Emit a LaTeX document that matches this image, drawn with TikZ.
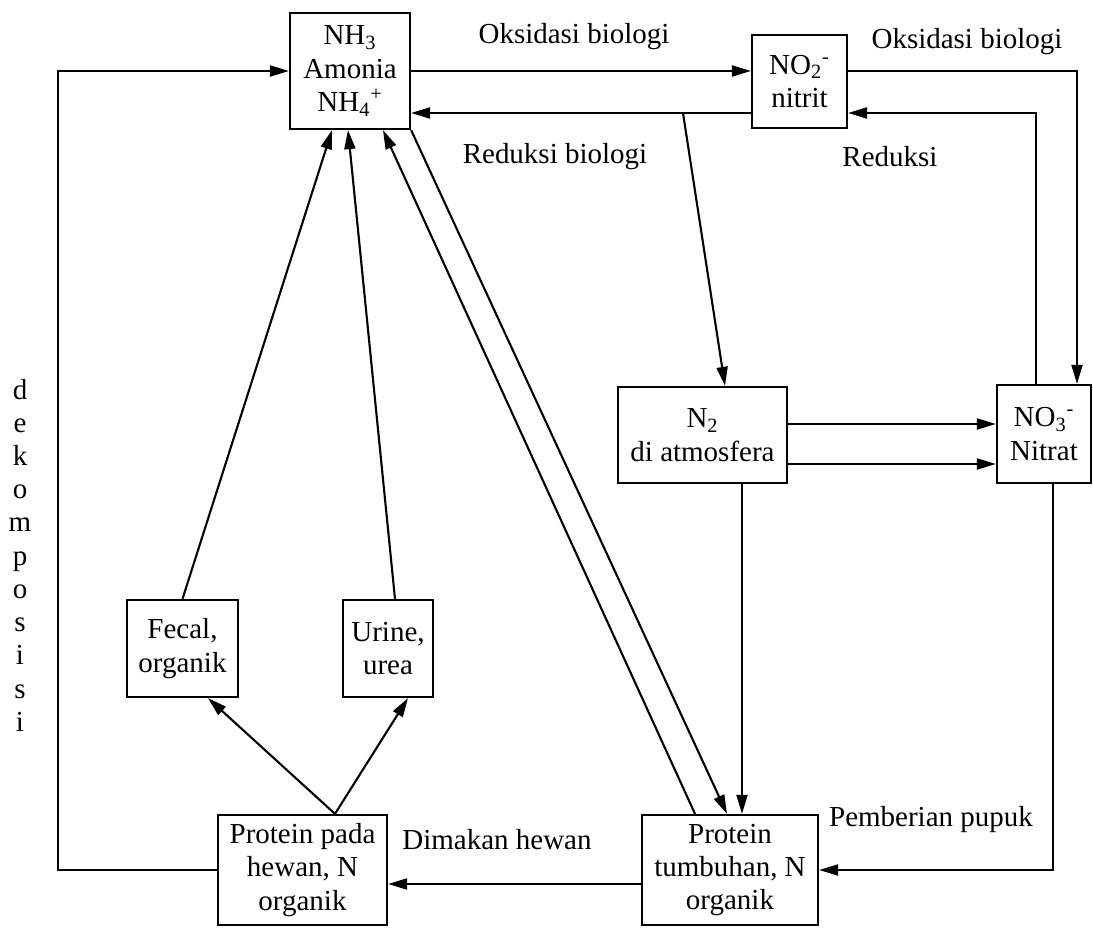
\documentclass[tikz,border=0pt]{standalone}
\usepackage{fontspec}
\setmainfont{Liberation Serif}
\usetikzlibrary{arrows.meta}
\begin{document}
\begin{tikzpicture}[x=0.02cm, y=-0.02cm,
    main/.style = {draw, line width=1.3pt, align=center, inner sep=0pt, font=\fontsize{16.5}{19}\selectfont},
    lbl/.style = {inner sep=0pt, font=\fontsize{16.5}{19}\selectfont},
    every path/.style = {line width=1.2pt},
    >={Triangle[length=0.38cm, width=0.22cm]}]
    \useasboundingbox (0,0) rectangle (1093,928);
    \node[main, minimum width=2.4cm, minimum height=2.32cm] (1) at (350,71) {NH\textsubscript{3}\\Amonia\\NH\textsubscript{4}\textsuperscript{+}};
    \node[main, minimum width=1.9cm, minimum height=1.86cm] (2) at (799.5,81.5) {NO\textsubscript{2}\textsuperscript{-}\\nitrit};
    \node[main, minimum width=3.38cm, minimum height=1.92cm] (3) at (702.5,435) {N\textsubscript{2}\\di atmosfera};
    \node[main, minimum width=1.88cm, minimum height=1.96cm] (4) at (1044,434) {NO\textsubscript{3}\textsuperscript{-}\\Nitrat};
    \node[main, minimum width=2.22cm, minimum height=1.94cm] (5) at (182.5,648.5) {Fecal,\\organik};
    \node[main, minimum width=1.8cm, minimum height=1.94cm] (6) at (388,648.5) {Urine,\\urea};
    \node[main, minimum width=3.38cm, minimum height=2.2cm] (7) at (302.5,870) {Protein pada\\hewan, N\\organik};
    \node[main, minimum width=3.52cm, minimum height=2.2cm] (8) at (730,870) {Protein\\tumbuhan, N\\organik};
    \node[lbl] (9) at (574,37) {Oksidasi biologi};
    \node[lbl] (10) at (555,157) {Reduksi biologi};
    \node[lbl] (11) at (967,42) {Oksidasi biologi};
    \node[lbl] (12) at (890,157) {Reduksi};
    \node[lbl] (13) at (497,840) {Dimakan hewan};
    \node[lbl] (14) at (931,820) {Pemberian pupuk};
    \node[lbl, align=center, font=\fontsize{16.5}{18.9}\selectfont, anchor=north] (15) at (20,378) {d\\e\\k\\o\\m\\p\\o\\s\\i\\s\\i};
    \coordinate (a) at (683,113);
    \coordinate (b) at ([xshift=0.79cm]3.south);
    \draw[->] (1.east) -- (1.east -| 2.west);
    \draw[->] (2.west |- a) -- (1.east |- a);
    \draw[->] (a) -- ([xshift=0.45cm]3.north);
    \draw[->] (2.east |- 1.east) -| ([xshift=0.66cm]4.north);
    \draw[->] ([xshift=-0.16cm]4.north) |- (2.east |- a);
    \draw[->] (3.east |- 0,424) -- (4.west |- 0,424);
    \draw[->] (3.east |- 0,464) -- (4.west |- 0,464);
    \draw[->] (b) -- (b |- 8.north);
    \draw[->] ([xshift=0.18cm]4.south) |- (8.east);
    \draw[->] (8.west |- 0,884) -- (7.east |- 0,884);
    \draw[->] (7.west) -- ++(-159,0) |- (1.west);
    \draw[->] (5.north) -- ([xshift=-0.36cm]1.south);
    \draw[->] ([xshift=0.14cm]6.north) -- ([xshift=-0.04cm]1.south);
    \draw[->] ([xshift=-0.7cm]8.north) -- ([xshift=0.66cm]1.south);
    \draw[->] (1.south east) -- ([xshift=-0.06cm]8.north);
    \draw[->] ([xshift=0.65cm]7.north) -- ([xshift=0.51cm]5.south);
    \draw[->] ([xshift=0.65cm]7.north) -- ([xshift=0.4cm]6.south);
\end{tikzpicture}
\end{document}
